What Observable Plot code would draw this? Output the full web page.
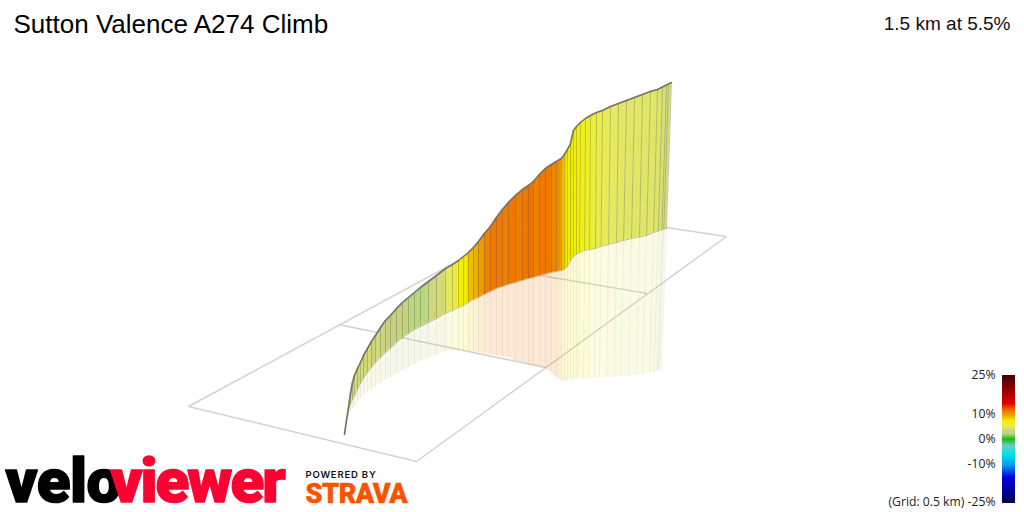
<!DOCTYPE html>
<html><head><meta charset="utf-8">
<style>html,body{margin:0;padding:0;background:#fff}svg{display:block}</style>
<script src="https://cdn.jsdelivr.net/npm/d3@7"></script>
<script src="https://cdn.jsdelivr.net/npm/@observablehq/plot@0.6"></script>
</head><body><div id="chart"></div>
<script>
const topX=[344,346,348,350,352,354,357,360,363,367,371,375,380,385,390,396,402,408,414,420,428,436,445,452,458,463,468,473,478,484,490,496,502,508,515,522,528,533,539,545,551,556,561,564,567,570,573,576,580,585,590,596,602,610,618,626,634,642,650,657,662,666,668,671];
const topY=[434,420,407,393,382,375,368,362,355,348,341,335,327,320,315,308,302,297,292,287,281,275,268,264,260,256,252,247,241,233,226,217,209,202,195,189,185,181,174,168,164,161,158,154,149,143,130,126,122,118,115,112,110,106,103,100,97,94,91,89,86.5,84.5,83.5,82];
const baseY=[434,420,410,404,399,395,389,383,378,372,367,362,357,352,348,342,337,333,329,326,322,318,313,310,307,305,302,299,297,294,291,288,286,284,282,280,278,277,275,273.5,272,271,270,269,266,260,256,254,252,250,249,248,246,244,242,240,238,236.5,235,232,230.5,229.5,228.8,228];
const shadowY=[434,424,417,412,409,406,402,398,395,392,389,386,383,380,377,373,370,367,364,361,358,355,352,350,350,350,351,351,352,353,354,355,356,357,360,362,364,365,366,368,372,377,380,381,380,379,379,378,378,378,378,378,377,377,377,376,376,375,374,372,371,370.5,370,370];
const lean=[0,0,0,0,0,0,0,0,0,0,0,0,0,0,0,0,0,0,0,0,0,0,0,0,0,0,0,0,0,0,0,0,0,0,0,0,0,0,0,0,0,0,0,0,0,0,0,0,1,1,1,1,1.5,2,2,3,3,3,4,4,4.2,4.6,4.8,5];
const grade=[3.8,4.2,3.6,4.4,3.4,4,3.4,4,3.3,3.8,3.3,3.6,3.3,3,2.9,2.9,2.8,2.2,2,2,3.4,3.6,4.8,5.5,7,7.2,8.5,9,9.6,10.6,11,11,10.8,11,10.8,11,11.2,10.6,11,11,10.4,10,8.6,7.6,7,7.2,7,6.6,6.4,6,5.6,5.3,5.2,5,4.8,4.6,4.6,4.6,4.6,4.4,4,3.8,3.8];
const gradeStops=[-25,-15,-10,-5.5,-2.5,0,2,3,4,5,6,7,10,11,14,25];
const gradeColors=["#000050","#0000e0","#00a0f0","#00e8e8","#70c8c0","#10c010","#b8d880","#c8d080","#d8e070","#e6ea60","#eef020","#f0f000","#ef8f00","#f07800","#e00000","#400000"];
const legendRows=d3.range(0,128);
const gridFrom=[[188,406],[416,461],[551,210],[188,406],[338,324],[457,261]];
const gridTo=[[416,461],[726,236],[726,236],[551,210],[545,367],[647,293]];

const idx=d3.range(topX.length);
const segs=idx.slice(0,-1).flatMap(i=>[i,i+1].map(j=>({seg:i,g:grade[i],tx:topX[j],ty:topY[j],bx:topX[j]-lean[j],by:baseY[j],sx:topX[j]-2*lean[j],sy:shadowY[j]})));
const posts=idx.map(i=>({tx:topX[i],ty:topY[i],bx:topX[i]-lean[i],by:baseY[i],sx:topX[i]-2*lean[i],sy:shadowY[i]}));
const font="'Liberation Sans',Arial,sans-serif", small="'Open Sans',sans-serif";
const logo="Roboto,Inter,'Liberation Sans',sans-serif";
const tracking={"velo":-0.5,"viewer":-2,"POWERED BY":0.8,"STRAVA":-0.4};

const chart=Plot.plot({
  width:1024,height:512,margin:0,style:{background:"#fff"},
  x:{domain:[0,1024],range:[0,1024],axis:null},
  y:{domain:[0,512],range:[0,512],axis:null},
  color:{type:"linear",domain:gradeStops,range:gradeColors,interpolate:"rgb"},
  marks:[
    Plot.link(gridFrom.map((a,i)=>[a,gridTo[i]]),{x1:d=>d[0][0],y1:d=>d[0][1],x2:d=>d[1][0],y2:d=>d[1][1],stroke:"#d2d2d2",strokeWidth:1.5}),
    Plot.area(segs,{x1:"bx",y1:"by",x2:"sx",y2:"sy",z:"seg",fill:"g",fillOpacity:0.17}),
    Plot.link(posts,{x1:"bx",y1:"by",x2:"sx",y2:"sy",stroke:"#888",strokeOpacity:0.1,strokeWidth:1}),
    Plot.area(segs,{x1:"tx",y1:"ty",x2:"bx",y2:"by",z:"seg",fill:"g",stroke:"g",strokeWidth:0.4}),
    Plot.link(posts,{x1:"tx",y1:"ty",x2:"bx",y2:"by",stroke:"#555",strokeOpacity:0.3,strokeWidth:1}),
    Plot.line(posts,{x:"bx",y:"by",stroke:"#8a8a30",strokeOpacity:0.45,strokeWidth:1}),
    Plot.line(posts,{x:"tx",y:"ty",stroke:"#747474",strokeWidth:1.6}),
    Plot.rect(legendRows,{x1:1002,x2:1015,y1:i=>375+i,y2:i=>376+i,fill:i=>25-(i+0.5)*50/128,shapeRendering:"crispEdges"}),
    Plot.text(["Sutton Valence A274 Climb"],{x:13,y:24,text:d=>d,textAnchor:"start",fontFamily:font,fontSize:26,fill:"#000"}),
    Plot.text(["1.5 km at 5.5%"],{x:1010,y:23,text:d=>d,textAnchor:"end",fontFamily:font,fontSize:19,fill:"#111"}),
    Plot.text(["25%","10%","0%","-10%","(Grid: 0.5 km) -25%"],{x:995,y:(d,i)=>[375,414,439,464,502][i],text:d=>d,textAnchor:"end",fontFamily:small,fontSize:12.2,fill:"#222"}),
    Plot.text(["velo"],{x:5,y:482,text:d=>d,textAnchor:"start",fontFamily:logo,fontWeight:900,fontSize:62,fill:"#000",stroke:"#000",strokeWidth:1.5}),
    Plot.text(["viewer"],{x:110,y:482,text:d=>d,textAnchor:"start",fontFamily:logo,fontWeight:900,fontSize:62,fill:"#ff0033",stroke:"#ff0033",strokeWidth:1.5}),
    Plot.text(["POWERED BY"],{x:305,y:474,text:d=>d,textAnchor:"start",fontFamily:"Inter,sans-serif",fontWeight:600,fontSize:9.5,fill:"#111"}),
    Plot.text(["STRAVA"],{x:305,y:494,text:d=>d,textAnchor:"start",fontFamily:logo,fontWeight:900,fontSize:27,fill:"#fc5200",stroke:"#fc5200",strokeWidth:0.5})
  ]
});
chart.querySelectorAll("text").forEach(t=>{const s=tracking[t.textContent];if(s!=null)t.style.letterSpacing=s+"px";});
document.getElementById("chart").append(chart);
</script></body></html>
